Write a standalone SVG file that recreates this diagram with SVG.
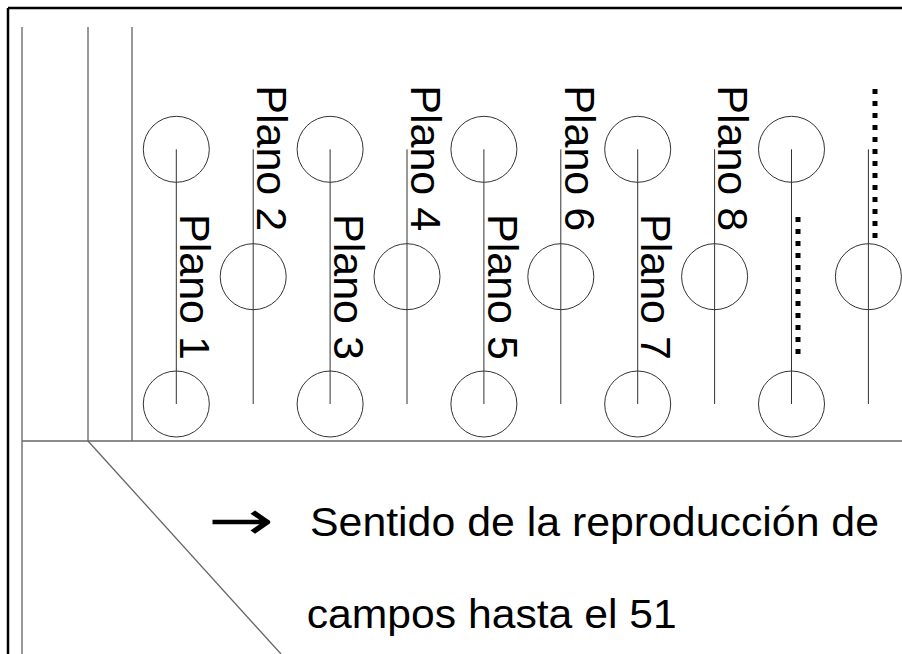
<svg xmlns="http://www.w3.org/2000/svg" width="902" height="654" viewBox="0 0 902 654">
  <style>
    .thin { stroke: #333; stroke-width: 1; fill: none; }
    .circ { stroke: #333; stroke-width: 1; fill: none; }
    .frame { stroke: #000; stroke-width: 2.5; fill: none; }
    .base { stroke: #666; stroke-width: 1.3; fill: none; }
    .dots { stroke: #000; stroke-width: 5; stroke-dasharray: 5 7; fill: none; }
    .lbl { font-family: "Liberation Sans", Arial, sans-serif; font-size: 43px; fill: #000; }
    .cap { font-family: "Liberation Sans", Arial, sans-serif; font-size: 40px; fill: #000; }
    .arr { font-family: "DejaVu Sans", sans-serif; font-size: 54px; fill: #000; }
  </style>
  <rect width="902" height="654" fill="#fff"/>

  <g id="frame">
    <line class="frame" x1="8" y1="8" x2="902" y2="8"/>
    <line class="frame" x1="8" y1="8" x2="8" y2="654"/>
    <line class="thin" x1="22" y1="27" x2="22" y2="654"/>
    <line class="thin" x1="88" y1="27" x2="88" y2="441"/>
    <line class="thin" x1="132" y1="27" x2="132" y2="441"/>
    <line class="base" x1="22" y1="441" x2="902" y2="441"/>
    <line class="base" x1="88" y1="441" x2="281" y2="654"/>
  </g>

  <g id="col1">
    <line class="thin" x1="176.3" y1="149.3" x2="176.3" y2="404"/>
    <circle class="circ" cx="176.3" cy="149.3" r="33"/>
    <circle class="circ" cx="176.3" cy="404" r="33"/>
  </g>
  <g id="col2">
    <line class="thin" x1="253.2" y1="149.3" x2="253.2" y2="404"/>
    <circle class="circ" cx="253.2" cy="276.7" r="33"/>
  </g>
  <g id="col3">
    <line class="thin" x1="330.1" y1="149.3" x2="330.1" y2="404"/>
    <circle class="circ" cx="330.1" cy="149.3" r="33"/>
    <circle class="circ" cx="330.1" cy="404" r="33"/>
  </g>
  <g id="col4">
    <line class="thin" x1="407" y1="149.3" x2="407" y2="404"/>
    <circle class="circ" cx="407" cy="276.7" r="33"/>
  </g>
  <g id="col5">
    <line class="thin" x1="483.9" y1="149.3" x2="483.9" y2="404"/>
    <circle class="circ" cx="483.9" cy="149.3" r="33"/>
    <circle class="circ" cx="483.9" cy="404" r="33"/>
  </g>
  <g id="col6">
    <line class="thin" x1="560.8" y1="149.3" x2="560.8" y2="404"/>
    <circle class="circ" cx="560.8" cy="276.7" r="33"/>
  </g>
  <g id="col7">
    <line class="thin" x1="637.7" y1="149.3" x2="637.7" y2="404"/>
    <circle class="circ" cx="637.7" cy="149.3" r="33"/>
    <circle class="circ" cx="637.7" cy="404" r="33"/>
  </g>
  <g id="col8">
    <line class="thin" x1="714.6" y1="149.3" x2="714.6" y2="404"/>
    <circle class="circ" cx="714.6" cy="276.7" r="33"/>
  </g>
  <g id="col9">
    <line class="thin" x1="791.5" y1="149.3" x2="791.5" y2="404"/>
    <circle class="circ" cx="791.5" cy="149.3" r="33"/>
    <circle class="circ" cx="791.5" cy="404" r="33"/>
    <line class="dots" x1="798" y1="217" x2="798" y2="354"/>
  </g>
  <g id="col10">
    <line class="thin" x1="868.4" y1="149.3" x2="868.4" y2="404"/>
    <circle class="circ" cx="868.4" cy="276.7" r="33"/>
    <line class="dots" x1="875" y1="89" x2="875" y2="238"/>
  </g>

  <g id="labels">
    <text class="lbl" transform="translate(180,214) rotate(90)">Plano 1</text>
    <text class="lbl" transform="translate(256.9,85.3) rotate(90)">Plano 2</text>
    <text class="lbl" transform="translate(333.8,214) rotate(90)">Plano 3</text>
    <text class="lbl" transform="translate(410.7,85.3) rotate(90)">Plano 4</text>
    <text class="lbl" transform="translate(487.6,214) rotate(90)">Plano 5</text>
    <text class="lbl" transform="translate(564.5,85.3) rotate(90)">Plano 6</text>
    <text class="lbl" transform="translate(641.4,214) rotate(90)">Plano 7</text>
    <text class="lbl" transform="translate(718.3,85.3) rotate(90)">Plano 8</text>
  </g>

  <g id="caption">
    <text class="arr" x="208" y="539" textLength="66" lengthAdjust="spacingAndGlyphs">→</text>
    <text class="cap" x="310" y="535.5" textLength="569" lengthAdjust="spacingAndGlyphs">Sentido de la reproducción de</text>
    <text class="cap" x="306.7" y="628" textLength="370" lengthAdjust="spacingAndGlyphs">campos hasta el 51</text>
  </g>
</svg>
